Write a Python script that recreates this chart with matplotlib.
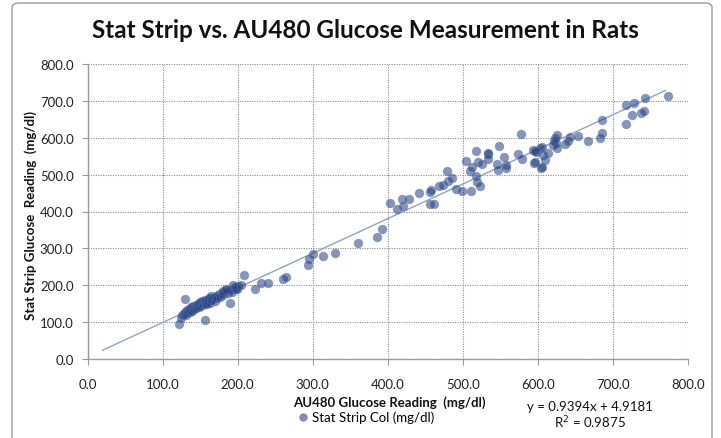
import matplotlib
matplotlib.use("Agg")
import matplotlib.pyplot as plt
from matplotlib.lines import Line2D
from matplotlib.patches import FancyBboxPatch
import numpy as np

# ---- data ----
au480 = [
    122, 124, 126, 128, 130, 131, 132, 133, 134, 135, 136, 137, 138, 139, 140,
    141, 142, 143, 144, 145, 146, 147, 148, 149, 150, 151, 152, 153, 154, 155,
    156, 157, 158, 159, 160, 161, 162, 163, 164, 165, 166, 168, 170, 171, 173,
    175, 177, 179, 181, 184, 187, 190, 193, 196, 199, 201,
    130, 157, 190, 209, 223, 198, 194, 205, 180, 185,
    231, 241, 260, 264, 294, 295, 300, 314, 330, 360, 386, 392,
    403, 412, 419, 420, 428, 442, 456, 457, 456, 462, 468, 473, 480, 486, 479,
    491, 499, 504, 511, 509, 512, 518, 517, 519, 523, 520, 525, 533, 534, 534,
    548, 545, 547, 555, 557, 558, 573, 578, 579, 593, 597, 595, 603, 604,
    605, 596, 607, 610, 596, 605, 614, 620, 624, 621, 623, 625, 626, 636, 640,
    643, 654, 667, 683, 686, 686,
    717, 728, 717, 726, 738, 741, 743, 774,
]
stat_strip = [
    95, 112, 118, 122, 128, 120, 132, 126, 130, 136, 128, 134, 140, 131, 137,
    144, 135, 140, 146, 138, 143, 150, 142, 148, 154, 145, 152, 158, 149, 156,
    150, 161, 155, 148, 163, 157, 166, 152, 160, 170, 162, 168, 158, 172, 165,
    176, 169, 180, 174, 186, 178, 188, 182, 195, 190, 197,
    162, 107, 153, 228, 189, 189, 200, 200, 184, 190,
    207, 205, 218, 222, 255, 270, 285, 279, 287, 315, 331, 352,
    423, 407, 435, 416, 435, 450, 454, 457, 420, 420, 468, 471, 483, 492, 510,
    462, 456, 537, 456, 511, 520, 563, 495, 480, 468, 534, 528, 555, 558, 543,
    577, 529, 513, 549, 527, 518, 555, 609, 543, 568, 562, 532, 573, 519,
    575, 564, 554, 541, 534, 521, 559, 580, 587, 590, 598, 607, 572, 582, 592,
    602, 605, 591, 598, 612, 648,
    690, 693, 637, 661, 667, 672, 709, 714,
]
slope = 0.9394
intercept = 4.9181
r_squared = 0.9875
trend_range = [20, 770]
ticks = [0, 100, 200, 300, 400, 500, 600, 700, 800]
tick_labels = ["0.0", "100.0", "200.0", "300.0", "400.0", "500.0", "600.0", "700.0", "800.0"]

title = "Stat Strip vs. AU480 Glucose Measurement in Rats"
xlabel = "AU480 Glucose Reading  (mg/dl)"
ylabel = "Stat Strip Glucose  Reading  (mg/dl)"
legend_label = "Stat Strip Col (mg/dl)"

plt.rcParams["font.family"] = ["Lato", "DejaVu Sans"]

W, H = 721, 439
fig = plt.figure(figsize=(W / 100, H / 100), dpi=100)
fig.patch.set_facecolor("white")

# figure border
border = FancyBboxPatch((12 / W, -0.05), (712 - 12) / W, 1 - 4 / H + 0.05,
                        boxstyle="round,pad=0,rounding_size=0.01",
                        transform=fig.transFigure, fill=False,
                        edgecolor="#9a9a9a", linewidth=1.0)
fig.patches.append(border)

ax = fig.add_axes([87.5 / W, 1 - 360 / H, (688 - 87.5) / W, (360 - 65) / H])

ax.scatter(au480, stat_strip, s=38, color="#233f7e", alpha=0.55,
           edgecolors="#5a73a8", linewidths=0.6, zorder=3)

tx = np.array(trend_range, dtype=float)
ax.plot(tx, slope * tx + intercept, color="#8fa0c6", linewidth=1.0, zorder=2)

ax.set_xlim(0, 800)
ax.set_ylim(0, 800)
ax.set_xticks(ticks)
ax.set_xticklabels(tick_labels)
ax.set_yticks(ticks)
ax.set_yticklabels(tick_labels)

ax.grid(True, color="#8a8a8a", linestyle=(0, (1, 1.2)), linewidth=0.8)
ax.set_axisbelow(True)
for s in ["top", "right"]:
    ax.spines[s].set_visible(False)
for s in ["left", "bottom"]:
    ax.spines[s].set_color("#9a9a9a")
    ax.spines[s].set_linewidth(1.0)
ax.tick_params(axis="both", direction="out", length=4, color="#9a9a9a",
               labelsize=9.5, labelcolor="#222222")
ax.tick_params(axis="x", pad=10)
ax.tick_params(axis="y", pad=6)

fig.text(365 / W, 1 - 31 / H, title, ha="center", va="center",
         fontsize=17.5, fontweight="bold", color="#111111")
fig.text(389 / W, 1 - 403 / H, xlabel, ha="center", va="center",
         fontsize=9.5, fontweight="bold", color="#111111")
fig.text(31 / W, 1 - 215 / H, ylabel, ha="center", va="center",
         rotation=90, fontsize=9.5, fontweight="bold", color="#111111")

handle = Line2D([], [], linestyle="none", marker="o", markersize=5,
                markerfacecolor="#7f8fb8", markeredgecolor="#7f8fb8")
fig.legend([handle], [legend_label], loc="center left",
           bbox_to_anchor=(296 / W, 1 - 418 / H), frameon=False,
           fontsize=9.5, handletextpad=0.2, handlelength=1.0,
           borderpad=0, borderaxespad=0)

fig.text(590 / W, 1 - 407 / H, f"y = {slope}x + {intercept}", ha="center",
         va="center", fontsize=9.5, color="#111111")
fig.text(590 / W, 1 - 423 / H, f"R$^2$ = {r_squared}", ha="center",
         va="center", fontsize=9.5, color="#111111")

fig.savefig("out.png", dpi=100)
